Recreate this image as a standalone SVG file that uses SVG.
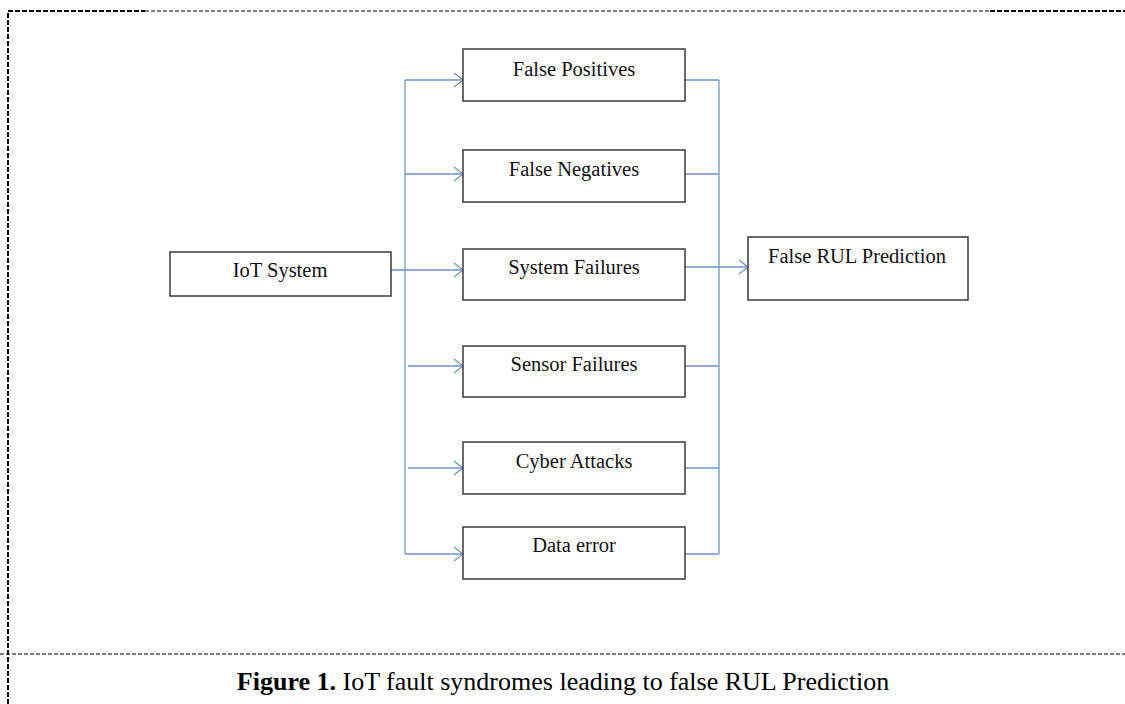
<svg xmlns="http://www.w3.org/2000/svg" width="1125" height="704" viewBox="0 0 1125 704">
<defs>
<marker id="arr" markerWidth="12" markerHeight="16" refX="10" refY="8" orient="auto" markerUnits="userSpaceOnUse">
<path d="M1,1 L10,8 L1,15" fill="none" stroke="#6f96c9" stroke-width="1.3"/>
</marker>
<style>
.box{fill:#fff;stroke:#3a3a3a;stroke-width:1.5}
.t{font-family:"Liberation Serif","Times New Roman",serif;font-size:20.5px;fill:#111;text-anchor:middle}
.c{fill:none;stroke:#6f96c9;stroke-width:1.3}
.frame{fill:none;stroke:#000;stroke-width:1;stroke-dasharray:4,2}
.frameb{fill:none;stroke:#000;stroke-width:2;stroke-dasharray:5,2}
</style>
</defs>
<g id="frame">
<path class="frameb" d="M8,704 L8,11 L145,11"/>
<path class="frame" d="M145,11 L990,11"/>
<path class="frameb" d="M990,11 L1125,11"/>
<path class="frame" d="M0,654 L1125,654"/>
</g>
<g id="connectors">
<path class="c" d="M391,270 L463,270" marker-end="url(#arr)"/>
<path class="c" d="M405,80 L405,554"/>
<path class="c" d="M405,80 L463,80" marker-end="url(#arr)"/>
<path class="c" d="M405,174 L463,174" marker-end="url(#arr)"/>
<path class="c" d="M408,366 L463,366" marker-end="url(#arr)"/>
<path class="c" d="M408,468 L463,468" marker-end="url(#arr)"/>
<path class="c" d="M405,554 L463,554" marker-end="url(#arr)"/>
<path class="c" d="M719,80 L719,554"/>
<path class="c" d="M685,80 L719,80"/>
<path class="c" d="M685,174 L719,174"/>
<path class="c" d="M685,366 L719,366"/>
<path class="c" d="M683,468 L719,468"/>
<path class="c" d="M685,554 L719,554"/>
<path class="c" d="M685,267 L748,267" marker-end="url(#arr)"/>
</g>
<g id="iot"><rect class="box" x="170" y="252" width="221" height="44"/><text class="t" x="280" y="277">IoT System</text></g>
<g id="fp"><rect class="box" x="463" y="49" width="222" height="52"/><text class="t" x="574" y="76">False Positives</text></g>
<g id="fn"><rect class="box" x="463" y="150" width="222" height="52"/><text class="t" x="574" y="176">False Negatives</text></g>
<g id="sf"><rect class="box" x="463" y="249" width="222" height="51"/><text class="t" x="574" y="274">System Failures</text></g>
<g id="sen"><rect class="box" x="463" y="346" width="222" height="51"/><text class="t" x="574" y="371">Sensor Failures</text></g>
<g id="ca"><rect class="box" x="463" y="442" width="222" height="52"/><text class="t" x="574" y="468">Cyber Attacks</text></g>
<g id="de"><rect class="box" x="463" y="527" width="222" height="52"/><text class="t" x="574" y="552">Data error</text></g>
<g id="rul"><rect class="box" x="748" y="237" width="220" height="63"/><text class="t" x="857" y="263">False RUL Prediction</text></g>
<g id="caption"><text x="563" y="690" style="font-family:'Liberation Serif','Times New Roman',serif;font-size:26px;fill:#000;text-anchor:middle"><tspan font-weight="bold">Figure 1.</tspan> IoT fault syndromes leading to false RUL Prediction</text></g>
</svg>
